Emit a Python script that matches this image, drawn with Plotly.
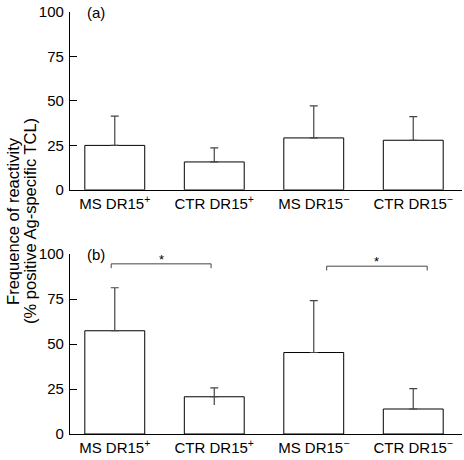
import plotly.graph_objects as go

categories = ["MS DR15<sup>+</sup>", "CTR DR15<sup>+</sup>", "MS DR15<sup>−</sup>", "CTR DR15<sup>−</sup>"]
y_ticks = [0, 25, 50, 75, 100]
y_title_lines = ["Frequence of reactivity", "(% positive Ag-specific TCL)"]

# panel (a)
a_values = [25.0, 15.7, 29.2, 27.9]
a_err_up = [16.5, 7.9, 18.0, 13.3]

# panel (b)
b_values = [57.4, 20.7, 45.3, 13.9]
b_err_up = [23.9, 4.9, 28.9, 11.3]
b_err_down = [0, 4.6, 0, 0]

# significance comparisons in panel (b): (from index, to index, label)
b_sig = [(0, 1, "*"), (2, 3, "*")]

FONT = "Liberation Sans, Arial, Helvetica, sans-serif"
ERRC = "#444444"

fig = go.Figure()

def add_panel(values, err_up, xa, ya):
    fig.add_trace(go.Bar(
        x=categories, y=values, xaxis=xa, yaxis=ya,
        marker=dict(color="white", line=dict(color="black", width=1)),
        error_y=dict(type="data", symmetric=False, array=err_up, arrayminus=[0]*len(err_up),
                     color=ERRC, thickness=1.2, width=4),
        showlegend=False, hoverinfo="skip",
    ))

add_panel(a_values, a_err_up, "x", "y")
add_panel(b_values, b_err_up, "x2", "y2")

# downward whisker(s) in panel (b)
for c, v, d in zip(categories, b_values, b_err_down):
    if d > 0:
        fig.add_trace(go.Scatter(x=[c, c], y=[v, v - d], xaxis="x2", yaxis="y2",
                                 mode="lines", line=dict(color=ERRC, width=1.2),
                                 showlegend=False, hoverinfo="skip"))

xcommon = dict(type="category", range=[-0.45, 3.49], showline=True, linecolor="black",
               linewidth=1.3, ticks="", showgrid=False, zeroline=False, automargin=False,
               tickfont=dict(family=FONT, size=15, color="black"), fixedrange=True)
ycommon = dict(range=[0, 100], tickvals=y_ticks, showline=True, linecolor="black",
               linewidth=1.3, ticks="inside", ticklen=7, tickcolor="black", tickwidth=1.2,
               showgrid=False, zeroline=False, ticklabelstandoff=2, automargin=False,
               tickfont=dict(family=FONT, size=15, color="black"))

fig.update_layout(
    width=464, height=460,
    margin=dict(l=70, r=2, t=12, b=26),
    paper_bgcolor="white", plot_bgcolor="white",
    bargap=0.398,
    xaxis=dict(domain=[0, 1], anchor="y", **xcommon),
    yaxis=dict(domain=[0.5785, 1], anchor="x", **ycommon),
    xaxis2=dict(domain=[0, 1], anchor="y2", **xcommon),
    yaxis2=dict(domain=[0, 0.4262], anchor="x2", **ycommon),
)

annotations = [
    dict(text="(a)", xref="x", yref="y", x=-0.30, y=100, xanchor="left", yanchor="middle",
         showarrow=False, font=dict(family=FONT, size=15, color="black")),
    dict(text="(b)", xref="x2", yref="y2", x=-0.30, y=100, xanchor="left", yanchor="middle",
         showarrow=False, font=dict(family=FONT, size=15, color="black")),
]
for line, xp in zip(y_title_lines, [-0.1454, -0.102]):
    annotations.append(dict(text=line, xref="paper", yref="paper", x=xp, y=0.505,
                            textangle=-90, showarrow=False, xanchor="center", yanchor="middle",
                            font=dict(family=FONT, size=16.5, color="black")))

# bracket layout: (left offset, right offset, height)
bracket_layout = [(-0.036, -0.032, 94.6), (0.13, 0.14, 93.3)]
shapes = []
for (i, j, lab), (dl, dr, ylev) in zip(b_sig, bracket_layout):
    x0, x1 = i + dl, j + dr
    shapes.append(dict(type="path", xref="x2", yref="y2",
                       path=f"M {x0},{ylev-2.4} L {x0},{ylev} L {x1},{ylev} L {x1},{ylev-2.4}",
                       line=dict(color=ERRC, width=1)))
    annotations.append(dict(text=lab, xref="x2", yref="y2", x=(x0 + x1) / 2, y=ylev + 2.4,
                            yanchor="middle", showarrow=False,
                            font=dict(family=FONT, size=13, color="black")))

fig.update_layout(annotations=annotations, shapes=shapes)
fig.write_html("out.html", config={"displayModeBar": False},
               post_script="document.body.style.margin='0';document.body.style.padding='0';")
